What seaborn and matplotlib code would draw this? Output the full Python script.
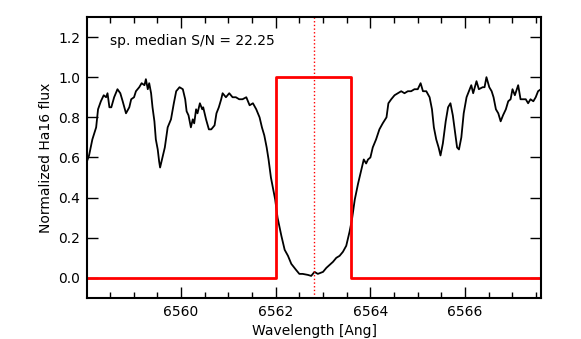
import numpy as np
import pandas as pd
import seaborn as sns
import matplotlib
matplotlib.use('Agg')
import matplotlib.pyplot as plt
from matplotlib.ticker import MultipleLocator


# spectrum (wavelength in Angstrom, normalized flux)
wave = [6558.00, 6558.06, 6558.13, 6558.21, 6558.25, 6558.31, 6558.37, 6558.42, 6558.45, 6558.49,
        6558.53, 6558.59, 6558.66, 6558.72, 6558.77, 6558.84, 6558.91, 6558.95, 6559.01, 6559.05,
        6559.12, 6559.17, 6559.23, 6559.26, 6559.30, 6559.33, 6559.37, 6559.40, 6559.44, 6559.47,
        6559.51, 6559.54, 6559.56, 6559.61, 6559.66, 6559.72, 6559.79, 6559.85, 6559.90, 6559.97,
        6560.04, 6560.09, 6560.12, 6560.16, 6560.21, 6560.25, 6560.28, 6560.32, 6560.35, 6560.40,
        6560.45, 6560.47, 6560.53, 6560.59, 6560.64, 6560.71, 6560.75, 6560.80, 6560.85, 6560.88,
        6560.95, 6561.02, 6561.09, 6561.16, 6561.23, 6561.30, 6561.38, 6561.45, 6561.52, 6561.59,
        6561.66, 6561.71, 6561.76, 6561.81, 6561.85, 6561.90, 6561.95, 6561.99, 6562.04, 6562.12,
        6562.19, 6562.26, 6562.33, 6562.43, 6562.50, 6562.57, 6562.68, 6562.75, 6562.82, 6562.89,
        6563.00, 6563.07, 6563.14, 6563.21, 6563.28, 6563.35, 6563.42, 6563.49, 6563.56, 6563.61,
        6563.67, 6563.74, 6563.81, 6563.86, 6563.91, 6563.95, 6564.00, 6564.05, 6564.12, 6564.19,
        6564.26, 6564.34, 6564.38, 6564.44, 6564.51, 6564.58, 6564.65, 6564.72, 6564.79, 6564.86,
        6564.93, 6565.00, 6565.06, 6565.11, 6565.18, 6565.25, 6565.30, 6565.34, 6565.39, 6565.44,
        6565.48, 6565.53, 6565.59, 6565.64, 6565.69, 6565.74, 6565.78, 6565.83, 6565.87, 6565.92,
        6565.97, 6566.03, 6566.08, 6566.13, 6566.17, 6566.24, 6566.29, 6566.37, 6566.41, 6566.45,
        6566.51, 6566.56, 6566.60, 6566.65, 6566.70, 6566.75, 6566.80, 6566.86, 6566.91, 6566.96,
        6567.00, 6567.05, 6567.12, 6567.17, 6567.22, 6567.28, 6567.33, 6567.38, 6567.44, 6567.49,
        6567.54, 6567.60]
flux = [0.57, 0.61, 0.69, 0.75, 0.84, 0.88, 0.91, 0.90, 0.92, 0.85,
        0.85, 0.90, 0.94, 0.92, 0.88, 0.82, 0.85, 0.89, 0.90, 0.93,
        0.95, 0.97, 0.96, 0.99, 0.94, 0.97, 0.92, 0.85, 0.78, 0.69,
        0.64, 0.58, 0.55, 0.60, 0.65, 0.75, 0.79, 0.87, 0.93, 0.95,
        0.94, 0.89, 0.83, 0.81, 0.75, 0.79, 0.77, 0.84, 0.82, 0.87,
        0.84, 0.85, 0.79, 0.74, 0.74, 0.76, 0.82, 0.85, 0.89, 0.92,
        0.90, 0.92, 0.90, 0.90, 0.89, 0.89, 0.90, 0.86, 0.87, 0.84,
        0.80, 0.75, 0.71, 0.65, 0.59, 0.50, 0.44, 0.39, 0.30, 0.21,
        0.14, 0.11, 0.07, 0.04, 0.02, 0.02, 0.015, 0.01, 0.03, 0.02,
        0.03, 0.05, 0.065, 0.08, 0.10, 0.11, 0.13, 0.16, 0.23, 0.29,
        0.39, 0.47, 0.54, 0.59, 0.57, 0.59, 0.60, 0.65, 0.69, 0.74,
        0.77, 0.80, 0.87, 0.89, 0.91, 0.92, 0.93, 0.92, 0.93, 0.93,
        0.94, 0.94, 0.97, 0.93, 0.93, 0.90, 0.84, 0.75, 0.69, 0.65,
        0.61, 0.67, 0.78, 0.85, 0.87, 0.81, 0.74, 0.65, 0.64, 0.70,
        0.82, 0.90, 0.93, 0.96, 0.92, 0.98, 0.94, 0.95, 0.95, 1.00,
        0.95, 0.93, 0.90, 0.84, 0.82, 0.78, 0.81, 0.84, 0.88, 0.89,
        0.94, 0.91, 0.96, 0.89, 0.89, 0.89, 0.87, 0.89, 0.88, 0.90,
        0.93, 0.94]

# Ha16 bandpass (red box) and line centre
band_x = [6558.0, 6562.0, 6562.0, 6563.6, 6563.6, 6567.6]
band_y = [0, 0, 1, 1, 0, 0]
line_centre = 6562.8
snr_text = 'sp. median S/N = 22.25'

sns.set_style('ticks')
plt.rcParams['font.family'] = ['DejaVu Sans']
plt.rcParams['text.color'] = 'black'
plt.rcParams['axes.labelcolor'] = 'black'
plt.rcParams['xtick.color'] = 'black'
plt.rcParams['ytick.color'] = 'black'

fig = plt.figure(figsize=(5.81, 3.39), dpi=100)
ax = fig.add_axes([0.150, 0.121, 0.781, 0.829])

df_spec = pd.DataFrame({'wave': wave, 'flux': flux})
df_band = pd.DataFrame({'x': band_x, 'y': band_y})

sns.lineplot(data=df_spec, x='wave', y='flux', ax=ax, color='black', lw=1.3,
             estimator=None, sort=False)
sns.lineplot(data=df_band, x='x', y='y', ax=ax, color='red', lw=2,
             estimator=None, sort=False)
ax.axvline(line_centre, color='red', ls=':', lw=1)

ax.text(0.05, 0.915, snr_text, transform=ax.transAxes, ha='left', va='center', fontsize=10)

ax.set_xlim(6558.02, 6567.6)
ax.set_ylim(-0.1, 1.3)
ax.xaxis.set_major_locator(MultipleLocator(2))
ax.xaxis.set_minor_locator(MultipleLocator(0.5))
ax.yaxis.set_major_locator(MultipleLocator(0.2))
ax.tick_params(which='both', direction='in', top=True, right=True, labelsize=10,
               color='black', labelcolor='black')
ax.tick_params(which='major', length=8, width=1, pad=5)
ax.tick_params(which='minor', length=4, width=1)
for sp in ax.spines.values():
    sp.set_color('black')
    sp.set_linewidth(1.5)

ax.set_xlabel('Wavelength [Ang]', fontsize=10)
ax.set_ylabel('Normalized Ha16 flux', fontsize=10)

fig.savefig('out.png', dpi=100)
